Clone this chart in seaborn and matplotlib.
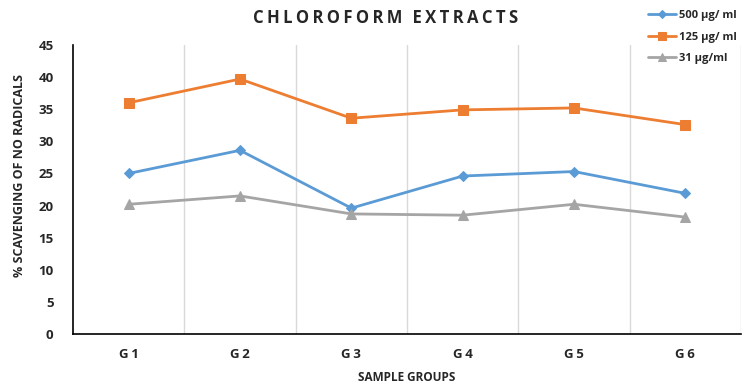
import numpy as np
import pandas as pd
import matplotlib
matplotlib.use("Agg")
import matplotlib.pyplot as plt
import seaborn as sns

# --- data ---
groups = ["G1", "G2", "G3", "G4", "G5", "G6"]
conc_500 = [25.0, 28.6, 19.6, 24.6, 25.3, 21.9]
conc_125 = [36.0, 39.7, 33.6, 34.9, 35.2, 32.6]
conc_31 = [20.2, 21.5, 18.7, 18.5, 20.2, 18.2]
series_names = ["500 µg/ ml", "125 µg/ ml", "31 µg/ml"]

df = pd.DataFrame({
    "group": groups * 3,
    "pos": list(range(len(groups))) * 3,
    "value": conc_500 + conc_125 + conc_31,
    "series": [series_names[0]] * 6 + [series_names[1]] * 6 + [series_names[2]] * 6,
})

sns.set_style("white")
plt.rcParams['font.family'] = ['Open Sans', 'DejaVu Sans']

fig = plt.figure(figsize=(7.51, 3.86), dpi=100)
ax = fig.add_axes([0.0972, 0.1347, 0.8895, 0.7487])

palette = {series_names[0]: "#5B9BD5", series_names[1]: "#ED7D31", series_names[2]: "#A5A5A5"}
markers = {series_names[0]: "D", series_names[1]: "s", series_names[2]: "^"}
sizes = {series_names[0]: 5, series_names[1]: 7, series_names[2]: 7}

for name in series_names:
    sub = df[df["series"] == name]
    sns.lineplot(data=sub, x="pos", y="value", color=palette[name], marker=markers[name],
                 markersize=sizes[name], markeredgecolor=palette[name], linewidth=2,
                 label=name, ax=ax)

ax.set_xlim(-0.5, 5.5)
ax.set_ylim(0, 45)
ax.set_yticks(range(0, 46, 5))
ax.set_xticks(range(len(groups)))
ax.set_xticklabels([g[0] + "\u2009" + g[1:] for g in groups])
ax.set_xticks(np.arange(0.5, 6, 1), minor=True)
ax.grid(False)
ax.grid(True, which="minor", axis="x", color="#D9D9D9", linewidth=1)
ax.tick_params(which="both", length=0)
ax.tick_params(axis="x", pad=10)
ax.tick_params(axis="y", pad=14)
for lab in ax.get_xticklabels() + ax.get_yticklabels():
    lab.set_fontweight("bold")
    lab.set_fontsize(9.5)

for s in ["top", "right"]:
    ax.spines[s].set_visible(False)
for s in ["left", "bottom"]:
    ax.spines[s].set_color("black")
    ax.spines[s].set_linewidth(1.2)

ax.set_xlabel("SAMPLE GROUPS", fontsize=8.5, fontweight="bold", labelpad=7)
ax.set_ylabel("% SCAVENGING OF NO RADICALS", fontsize=9, fontweight="bold")
ax.yaxis.set_label_coords(-0.07, 0.55)
title = "\u2009".join("CHLOROFORM") + "\u2009\u2009\u2009" + "\u2009".join("EXTRACTS")
fig.text(0.513, 0.953, title, ha="center", va="center", fontsize=12, fontweight="bold")

ax.legend(loc="upper left", bbox_to_anchor=(0.857, 0.985), bbox_transform=fig.transFigure,
          frameon=False, fontsize=8, handlelength=2.5, labelspacing=0.95,
          handletextpad=0.3, borderaxespad=0, markerscale=0.8)
for t in ax.get_legend().get_texts():
    t.set_fontweight("bold")

fig.savefig("out.png", dpi=100)
